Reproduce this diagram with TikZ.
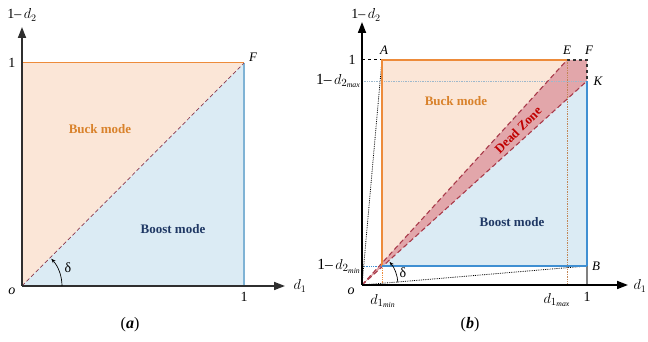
\documentclass[tikz,border=0pt]{standalone}
\usepackage{fontspec}
\setmainfont{Liberation Serif}
\usetikzlibrary{arrows.meta}
\definecolor{buckfill}{HTML}{FBE6D7}
\definecolor{boostfill}{HTML}{DBEBF4}
\definecolor{buckline}{HTML}{ED8B3A}
\definecolor{boostlineA}{HTML}{7FB3D5}
\definecolor{boostlineB}{HTML}{3F8FD2}
\definecolor{bucktext}{HTML}{D9822B}
\definecolor{boosttext}{HTML}{1F3864}
\definecolor{deadfill}{HTML}{E2A6AA}
\definecolor{deadline}{HTML}{A83A4A}
\definecolor{deadtext}{HTML}{C00000}
\definecolor{diaga}{HTML}{8B3A4F}
\definecolor{axiscol}{HTML}{2F2F2F}
\definecolor{guideblue}{HTML}{9DB8CC}
\begin{document}
\begin{tikzpicture}[x=1pt,y=1pt,
  axisline/.style={line width=1.7pt, draw=axiscol, -{Triangle[length=11pt,width=8pt]}},
  lbl/.style={inner sep=0pt, font=\fontsize{14}{16}\selectfont},
  sidelbl/.style={inner sep=0pt, font=\fontsize{15.5}{17}\selectfont},
  ptl/.style={inner sep=0pt, font=\fontsize{13}{15}\selectfont\itshape},
  modetext/.style={inner sep=0pt, font=\fontsize{13}{15}\selectfont\bfseries},
  caption/.style={inner sep=0pt, font=\fontsize{16}{18}\selectfont},
  anglearc/.style={line width=0.7pt, -{Stealth[length=4.5pt,width=3.5pt]}},
  deaddash/.style={draw=deadline, line width=1.1pt, dash pattern=on 5pt off 3pt}
]
\useasboundingbox (0,0) rectangle (648,342);

% ---------------- panel (a) ----------------
\coordinate (Oa) at (22,56);
\coordinate (Xa) at (244,56);
\coordinate (Ya) at (22,279);
\coordinate (Fa) at (244,279);
\coordinate (XaEnd) at (285,56);
\coordinate (YaEnd) at (22,315);

\fill[buckfill] (Oa) -- (Ya) -- (Fa) -- cycle;
\fill[boostfill] (Oa) -- (Xa) -- (Fa) -- cycle;
\draw[buckline, line width=1pt] (Ya) -- (Fa);
\draw[boostlineA, line width=1.8pt] (Fa) -- (Xa);
\draw[diaga, line width=0.7pt, dash pattern=on 4pt off 2.5pt] (Oa) -- (Fa);
\draw[axisline] (Oa) -- (XaEnd);
\draw[axisline] (Oa) -- (YaEnd);
\draw[anglearc] ([shift={(0:40)}]Oa) arc[start angle=0, end angle=43, radius=40];

\node[lbl] (ya) at (22,327) {1–\,$d_2$};
\node[lbl] (ya1) at (12,279) {1};
\node[lbl] (oa) at (12,51) {\itshape o};
\node[lbl] (xa1) at (244,45) {1};
\node[lbl] (xa) at (300,56) {$d_1$};
\node[ptl] (fa) at (253,285) {F};
\node[modetext, text=bucktext] (bucka) at (100,213) {Buck mode};
\node[modetext, text=boosttext] (boosta) at (173,113) {Boost mode};
\node[lbl] (dela) at (68,74) {δ};
\node[caption] (capa) at (130,17) {(\textbf{\textit{a}})};

% ---------------- panel (b) ----------------
\coordinate (Ob) at (362,57);
\coordinate (A) at (382,282);
\coordinate (E) at (567,282);
\coordinate (F) at (587,282);
\coordinate (K) at (587,261);
\coordinate (B) at (587,76);
\coordinate (C) at (382,76);
\coordinate (Cb) at (383,76);
\coordinate (Co) at (382,79);
\coordinate (Dmin) at (382,57);
\coordinate (Dmax) at (567,57);
\coordinate (X1) at (587,57);
\coordinate (Y1) at (362,282);
\coordinate (Ymax) at (362,261);
\coordinate (Ymin) at (362,76);
\coordinate (XbEnd) at (628,57);
\coordinate (YbEnd) at (362,320);

\fill[buckfill] (Co) -- (A) -- (E) -- cycle;
\fill[boostfill] (Cb) -- (K) -- (B) -- cycle;
\fill[deadfill] (Ob) -- (E) -- (F) -- (K) -- cycle;

\draw[guideblue, densely dotted, line width=0.7pt] (Ymax) -- (K);
\draw[boostlineB, densely dotted, line width=0.8pt] (Ymin) -- (C);
\draw[buckline, densely dotted, line width=0.8pt] (Dmin) -- (C);
\draw[buckline!60!gray, densely dotted, line width=0.7pt] (Dmax) -- (E);
\draw[black, dashed, line width=1pt] (Y1) -- (A);
\draw[black!80, dashed, line width=1.3pt] (E) -- (F) -- (K);
\draw[gray, line width=1.2pt] (B) -- (X1);
\draw[black, densely dotted, line width=0.8pt] (Ob) -- (A);
\draw[black, densely dotted, line width=0.8pt] (Ob) -- (B);
\draw[deaddash] (Ob) -- (E);
\draw[deaddash] (Ob) -- (K);
\draw[buckline, line width=1.2pt] (C) -- (A) -- (E);
\draw[boostlineB, line width=1.1pt] (C) -- (B);
\draw[boostlineB, line width=1.8pt] (B) -- (K);
\draw[axisline, draw=black] (Ob) -- (XbEnd);
\draw[axisline, draw=black] (Ob) -- (YbEnd);
\draw[anglearc] ([shift={(4:36)}]Ob) arc[start angle=4, end angle=40, radius=36];

\node[lbl] (yb) at (366,327) {1–\,$d_2$};
\node[lbl] (yb1) at (352,282) {1};
\node[sidelbl, anchor=east] (ybmax) at (361,261) {1–\,$d_{2_{\mathit{max}}}$};
\node[sidelbl, anchor=east] (ybmin) at (361,76) {1–\,$d_{2_{\mathit{min}}}$};
\node[lbl] (ob) at (351,51) {\itshape o};
\node[sidelbl] (xbmin) at (383,41) {$d_{1_{\mathit{min}}}$};
\node[sidelbl] (xbmax) at (557,42) {$d_{1_{\mathit{max}}}$};
\node[lbl] (xb1) at (587,45) {1};
\node[lbl] (xb) at (640,56) {$d_1$};
\node[ptl] (la) at (384,292) {A};
\node[ptl] (le) at (567,292) {E};
\node[ptl] (lf) at (589,292) {F};
\node[ptl] (lk) at (598,261) {K};
\node[ptl] (lb) at (596,76) {B};
\node[modetext, text=bucktext] (buckb) at (456,241) {Buck mode};
\node[modetext, text=deadtext, rotate=45] (dead) at (518,212) {Dead Zone};
\node[modetext, text=boosttext] (boostb) at (512,120) {Boost mode};
\node[lbl] (delb) at (403,69) {δ};
\node[caption] (capb) at (470,17) {(\textbf{\textit{b}})};
\end{tikzpicture}
\end{document}
